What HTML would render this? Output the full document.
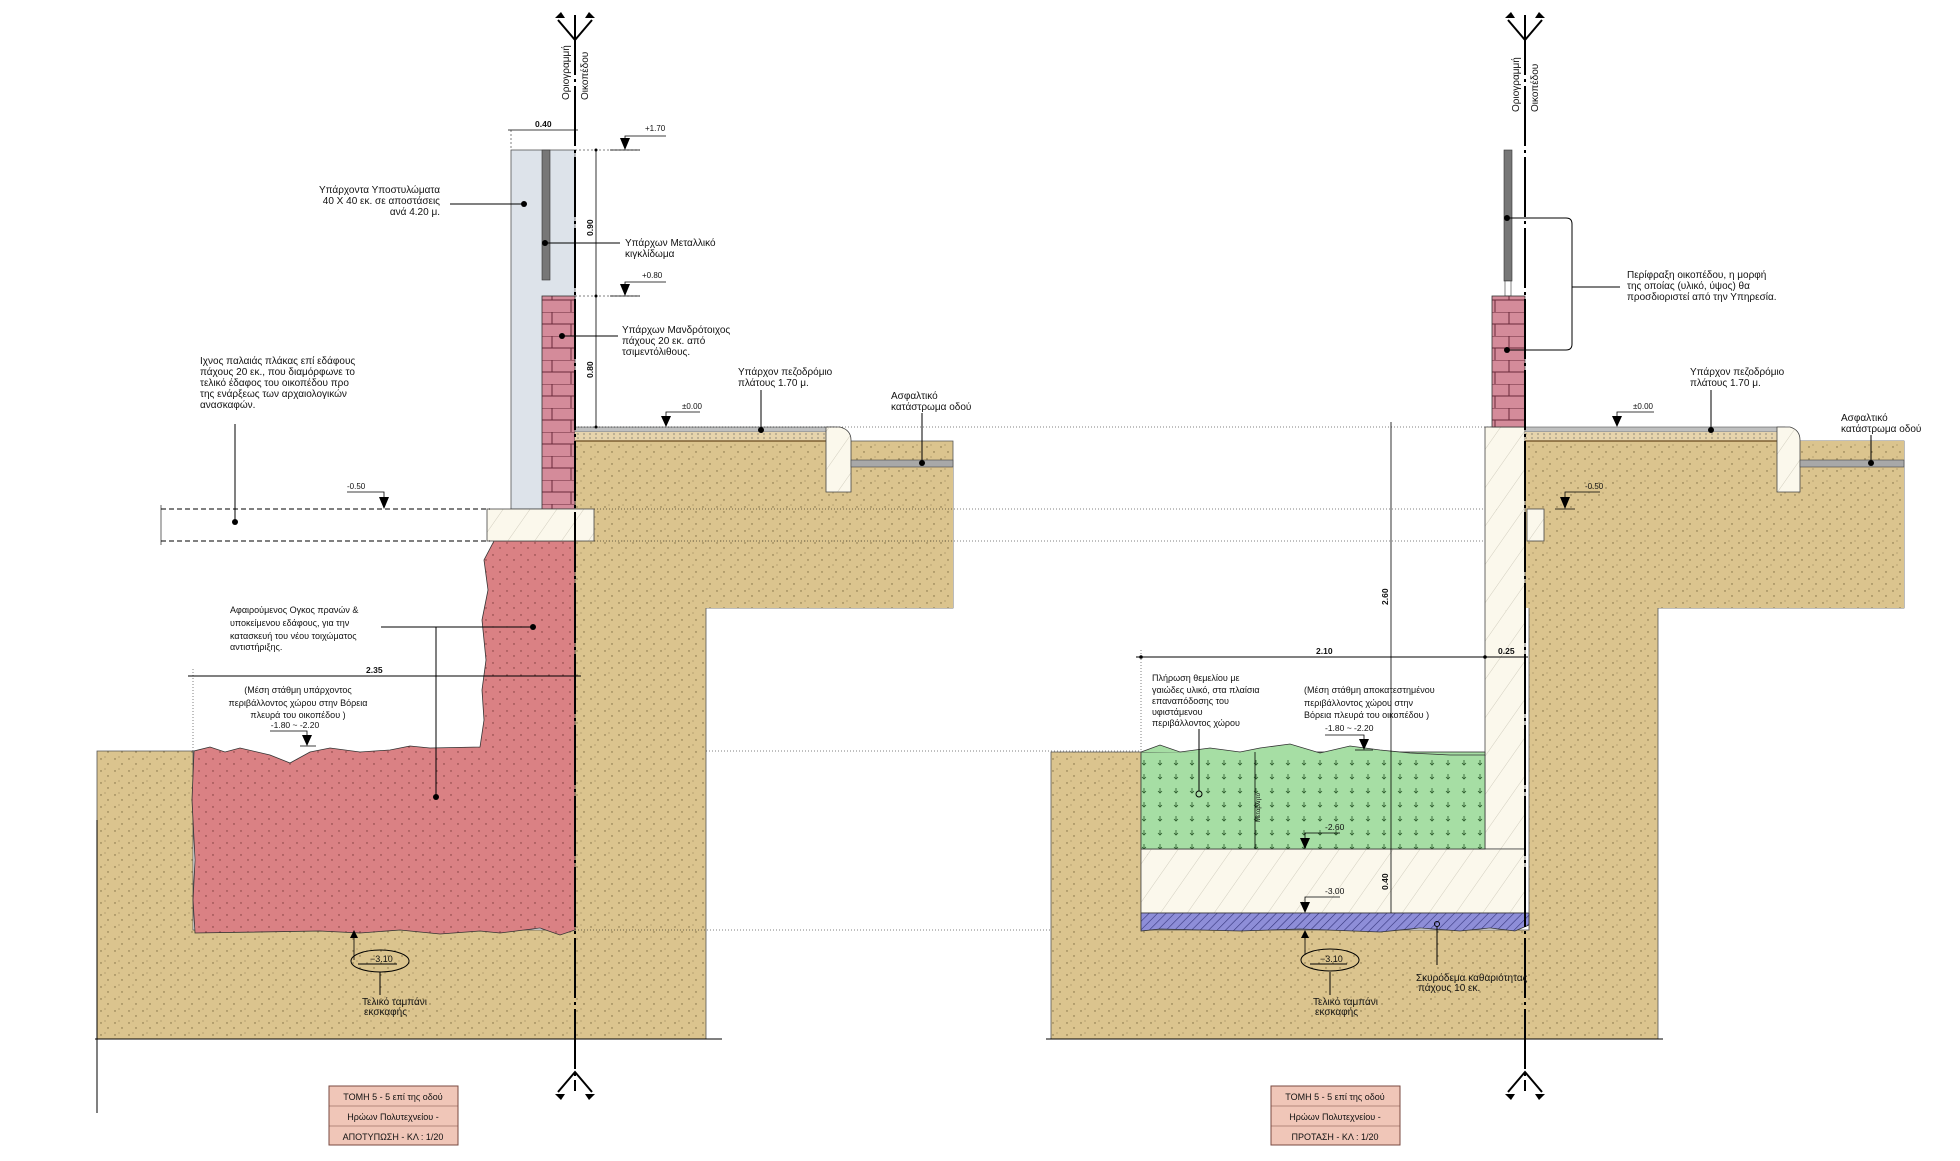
<!DOCTYPE html>
<html><head><meta charset="utf-8"><style>
html,body{margin:0;padding:0;background:#fff;}
svg{display:block}
text{font-family:"Liberation Sans","DejaVu Sans",sans-serif;fill:#111}
.s{font-size:10px}
.d{font-size:8.5px;font-weight:bold}
.ln{fill:none;stroke:#000;stroke-width:0.8}
</style></head><body>
<svg width="1960" height="1161" viewBox="0 0 1960 1161" xmlns="http://www.w3.org/2000/svg">
<defs>
<pattern id="soil" width="14" height="12" patternUnits="userSpaceOnUse">
<rect width="14" height="12" fill="#dbc48e"/>
<circle cx="3" cy="3" r="0.7" fill="#7a6a40"/><circle cx="10" cy="8" r="0.7" fill="#7a6a40"/><circle cx="7" cy="1" r="0.5" fill="#7a6a40"/>
</pattern>
<pattern id="red" width="14" height="12" patternUnits="userSpaceOnUse">
<rect width="14" height="12" fill="#da8184"/>
<circle cx="3" cy="3" r="0.7" fill="#7a3a3a"/><circle cx="10" cy="8" r="0.7" fill="#7a3a3a"/>
</pattern>
<pattern id="green" width="16" height="14" patternUnits="userSpaceOnUse">
<rect width="16" height="14" fill="#a6dea4"/>
<path d="M8 4 l0 5 M6 7 l2 2 l2 -2" stroke="#2a5a2a" stroke-width="0.8" fill="none"/>
</pattern>
<pattern id="conc" width="22" height="22" patternUnits="userSpaceOnUse" patternTransform="rotate(35)">
<rect width="22" height="22" fill="#fbf8ec"/>
<line x1="0" y1="0" x2="0" y2="22" stroke="#c8c4b4" stroke-width="0.8"/>
</pattern>
<pattern id="blue" width="6" height="6" patternUnits="userSpaceOnUse" patternTransform="rotate(45)">
<rect width="6" height="6" fill="#8e8ed8"/>
<line x1="0" y1="0" x2="0" y2="6" stroke="#33337a" stroke-width="1.2"/>
</pattern>
<pattern id="brick" width="33" height="24" patternUnits="userSpaceOnUse">
<rect width="33" height="24" fill="#d48b9a"/>
<path d="M0 0H33 M0 12H33 M24 0V12 M10 12V24" stroke="#6a2a3a" stroke-width="1"/>
</pattern>
<pattern id="sand" width="6" height="4" patternUnits="userSpaceOnUse">
<rect width="6" height="4" fill="#e6d4ac"/><circle cx="2" cy="2" r="0.6" fill="#555"/>
</pattern>
</defs>

<!-- ============ LEFT DRAWING ============ -->
<g>
<path d="M575 441 H953 V608 H706 V1039 H97 V751 L193 751 L193 930 L575 930 Z" fill="url(#soil)" stroke="#555" stroke-width="0.8"/>
<rect x="851" y="467" width="102" height="141" fill="url(#soil)"/>
<rect x="575" y="441" width="276" height="167" fill="url(#soil)"/>
<path d="M494 541 H575 V930 L560 935 L540 928 L500 933 L480 931 L440 934 L400 930 L360 933 L320 931 L195 933 L193 900 L195 860 L192 800 L194 751 L210 747 L225 752 L240 748 L270 755 L290 763 L310 752 L330 748 L360 752 L390 750 L410 746 L430 748 L480 747 L484 720 L482 690 L486 660 L482 620 L488 590 L484 560 Z" fill="url(#red)" stroke="#333" stroke-width="0.8"/>
<rect x="511" y="150" width="64" height="359" fill="#dde3ea" stroke="#555" stroke-width="0.8"/>
<rect x="542" y="150" width="8" height="130" fill="#777" stroke="#333" stroke-width="0.6"/>
<rect x="542" y="296" width="33" height="213" fill="url(#brick)" stroke="#333" stroke-width="0.8"/>
<rect x="487" y="509" width="107" height="32" fill="url(#conc)" stroke="#444" stroke-width="0.8"/>
<rect x="575" y="427" width="260" height="5" fill="#bfc0c0" stroke="#555" stroke-width="0.6"/>
<rect x="575" y="432" width="260" height="9" fill="url(#sand)"/>
<line x1="575" y1="441" x2="835" y2="441" stroke="#6a4a20" stroke-width="1.2"/>
<path d="M826 427 H840 Q851 430 851 440 V492 H826 Z" fill="url(#conc)" stroke="#444" stroke-width="0.8"/>
<rect x="851" y="460" width="102" height="7" fill="#a8a8a8" stroke="#444" stroke-width="0.6"/>
<line x1="575" y1="15" x2="575" y2="1091" stroke="#000" stroke-width="2" stroke-dasharray="60,4,3,4"/>
<path d="M558 20 L575 40 L592 20 M575 40 V60" stroke="#000" stroke-width="2" fill="none"/>
<path d="M555 18 l6 -6 l4 6z M595 18 l-6 -6 l-4 6z" fill="#000"/>
<path d="M558 1092 L575 1072 L592 1092" stroke="#000" stroke-width="2" fill="none"/>
<path d="M555 1094 l6 6 l4 -6z M595 1094 l-6 6 l-4 -6z" fill="#000"/>
<text class="s" transform="translate(569,100) rotate(-90)">Οριογραμμή</text>
<text class="s" transform="translate(588,100) rotate(-90)">Οικοπέδου</text>
<line x1="508" y1="130" x2="578" y2="130" stroke="#000" stroke-width="0.8"/>
<text class="d" x="535" y="127">0.40</text>
<line x1="511" y1="130" x2="511" y2="148" stroke="#000" stroke-width="0.5" stroke-dasharray="2,2"/>
<line x1="596" y1="150" x2="596" y2="427" stroke="#000" stroke-width="0.8"/>
<circle cx="596" cy="150" r="1.5"/><circle cx="596" cy="296" r="1.5"/><circle cx="596" cy="427" r="1.5"/>
<line x1="575" y1="150" x2="640" y2="150" stroke="#000" stroke-width="0.5" stroke-dasharray="2,2"/>
<line x1="575" y1="296" x2="640" y2="296" stroke="#000" stroke-width="0.5" stroke-dasharray="2,2"/>
<text class="d" transform="translate(593,236) rotate(-90)">0.90</text>
<text class="d" transform="translate(593,378) rotate(-90)">0.80</text>
<path d="M625 150 L620 138 H630Z" fill="#000"/><path class="ln" d="M625 138 V136 H666 M610 150 H640"/>
<text x="645" y="131" style="font-size:8px">+1.70</text>
<path d="M625 296 L620 284 H630Z" fill="#000"/><path class="ln" d="M625 284 V282 H666 M610 296 H640"/>
<text x="642" y="278" style="font-size:8px">+0.80</text>
<text class="s" text-anchor="end" x="440" y="193">Υπάρχοντα Υποστυλώματα</text>
<text class="s" text-anchor="end" x="440" y="204">40 Χ 40 εκ. σε αποστάσεις</text>
<text class="s" text-anchor="end" x="440" y="215">ανά 4.20 μ.</text>
<line x1="450" y1="204" x2="524" y2="204" stroke="#000"/><circle cx="524" cy="204" r="3"/>
<circle cx="545" cy="243" r="3"/><line x1="545" y1="243" x2="620" y2="243" stroke="#000"/>
<text class="s" x="625" y="246">Υπάρχων Μεταλλικό</text>
<text class="s" x="625" y="257">κιγκλίδωμα</text>
<circle cx="562" cy="336" r="3"/><line x1="562" y1="336" x2="618" y2="336" stroke="#000"/>
<text class="s" x="622" y="333">Υπάρχων Μανδρότοιχος</text>
<text class="s" x="622" y="344">πάχους 20 εκ. από</text>
<text class="s" x="622" y="355">τσιμεντόλιθους.</text>
<text class="s" x="200" y="364">Ιχνος παλαιάς πλάκας επί εδάφους</text>
<text class="s" x="200" y="375">πάχους 20 εκ., που διαμόρφωνε το</text>
<text class="s" x="200" y="386">τελικό έδαφος του οικοπέδου προ</text>
<text class="s" x="200" y="397">της ενάρξεως των αρχαιολογικών</text>
<text class="s" x="200" y="408">ανασκαφών.</text>
<line x1="235" y1="424" x2="235" y2="522" stroke="#000"/><circle cx="235" cy="522" r="3"/>
<text class="s" x="738" y="375">Υπάρχον πεζοδρόμιο</text>
<text class="s" x="738" y="386">πλάτους 1.70 μ.</text>
<line x1="761" y1="390" x2="761" y2="430" stroke="#000"/><circle cx="761" cy="430" r="3"/>
<text class="s" x="891" y="399">Ασφαλτικό</text>
<text class="s" x="891" y="410">κατάστρωμα οδού</text>
<line x1="922" y1="413" x2="922" y2="463" stroke="#000"/><circle cx="922" cy="463" r="3"/>
<path d="M666 427 L661 416 H671Z" fill="#000"/><path class="ln" d="M666 416 V412 H700"/>
<text x="682" y="409" style="font-size:8px">±0.00</text>
<line x1="575" y1="427" x2="1525" y2="427" stroke="#000" stroke-width="0.5" stroke-dasharray="1,2"/>
<line x1="161" y1="509" x2="490" y2="509" stroke="#000" stroke-dasharray="5,3"/>
<line x1="161" y1="541" x2="490" y2="541" stroke="#000" stroke-dasharray="5,3"/>
<line x1="161" y1="505" x2="161" y2="545" stroke="#000" stroke-width="0.6"/>
<line x1="594" y1="509" x2="1530" y2="509" stroke="#000" stroke-width="0.5" stroke-dasharray="1,2"/>
<line x1="594" y1="541" x2="1530" y2="541" stroke="#000" stroke-width="0.5" stroke-dasharray="1,2"/>
<path d="M384 509 L379 497 H389Z" fill="#000"/><path class="ln" d="M384 497 V492 H347"/>
<text x="347" y="489" style="font-size:8px">-0.50</text>
<text class="s" x="230" y="613" style="font-size:9px">Αφαιρούμενος Ογκος πρανών &amp;</text>
<text class="s" x="230" y="626" style="font-size:9px">υποκείμενου εδάφους, για την</text>
<text class="s" x="230" y="639" style="font-size:9px">κατασκευή του νέου τοιχώματος</text>
<text class="s" x="230" y="650" style="font-size:9px">αντιστήριξης.</text>
<line x1="381" y1="627" x2="533" y2="627" stroke="#000"/><circle cx="533" cy="627" r="3"/>
<line x1="436" y1="627" x2="436" y2="797" stroke="#000"/><circle cx="436" cy="797" r="3"/>
<line x1="188" y1="676" x2="581" y2="676" stroke="#000"/>
<line x1="193" y1="669" x2="193" y2="751" stroke="#000" stroke-width="0.5" stroke-dasharray="1,2"/>
<text class="d" x="366" y="673">2.35</text>
<text class="s" text-anchor="middle" x="298" y="693" style="font-size:9px">(Μέση στάθμη υπάρχοντος</text>
<text class="s" text-anchor="middle" x="298" y="706" style="font-size:9px">περιβάλλοντος χώρου στην Βόρεια</text>
<text class="s" text-anchor="middle" x="298" y="718" style="font-size:9px">πλευρά του οικοπέδου )</text>
<text text-anchor="middle" x="295" y="728" style="font-size:8.5px">-1.80 ~ -2.20</text>
<path d="M307 746 L302 735 H312Z" fill="#000"/><path class="ln" d="M270 731 H307 V735 M300 746 H316"/>
<line x1="706" y1="751" x2="1141" y2="751" stroke="#000" stroke-width="0.5" stroke-dasharray="1,2"/>
<line x1="575" y1="930" x2="1141" y2="930" stroke="#000" stroke-width="0.5" stroke-dasharray="1,2"/>
<ellipse cx="380" cy="961" rx="29" ry="11" fill="none" stroke="#000"/>
<path d="M350 938 L354 930 L358 938Z" fill="#000"/><path class="ln" d="M354 960 V934"/>
<line x1="358" y1="964" x2="397" y2="964" stroke="#000"/>
<text x="370" y="962" style="font-size:9px">−3.10</text>
<line x1="380" y1="972" x2="380" y2="995" stroke="#000"/>
<text class="s" x="362" y="1005">Τελικό ταμπάνι</text>
<text class="s" x="364" y="1015">εκσκαφής</text>
<line x1="97" y1="820" x2="97" y2="1113" stroke="#000"/>
<line x1="95" y1="1039" x2="722" y2="1039" stroke="#000"/>
<rect x="329" y="1086" width="129" height="59" fill="#f0c6b8" stroke="#7a4a40"/>
<line x1="329" y1="1106" x2="458" y2="1106" stroke="#7a4a40" stroke-width="0.5"/>
<line x1="329" y1="1126" x2="458" y2="1126" stroke="#7a4a40" stroke-width="0.5"/>
<text text-anchor="middle" x="393" y="1100" style="font-size:9px">ΤΟΜΗ 5 - 5  επί της οδού</text>
<text text-anchor="middle" x="393" y="1120" style="font-size:9px">Ηρώων Πολυτεχνείου -</text>
<text text-anchor="middle" x="393" y="1140" style="font-size:9px">ΑΠΟΤΥΠΩΣΗ - ΚΛ : 1/20</text>
</g>

<!-- ============ RIGHT DRAWING ============ -->
<g>
<path d="M1051 752 H1141 V930 H1529 V541 H1525 V441 H1904 V608 H1658 V1039 H1051 Z" fill="url(#soil)" stroke="#555" stroke-width="0.8"/>
<rect x="1525" y="441" width="379" height="167" fill="url(#soil)"/>
<rect x="1485" y="427" width="40" height="422" fill="url(#conc)" stroke="#444" stroke-width="0.8"/>
<rect x="1141" y="849" width="384" height="64" fill="url(#conc)" stroke="#444" stroke-width="0.8"/>
<rect x="1141" y="752" width="344" height="97" fill="url(#green)" stroke="#333" stroke-width="0.8"/>
<path d="M1141 752 L1160 745 L1180 752 L1210 748 L1240 752 L1260 748 L1290 744 L1320 753 L1350 746 L1380 750 L1410 753 L1450 755 L1485 755" fill="#a6dea4" stroke="#333" stroke-width="0.8"/>
<path d="M1141 913 H1529 V925 L1515 931 L1490 928 L1460 931 L1420 928 L1380 932 L1300 929 L1240 931 L1160 929 L1141 931 Z" fill="url(#blue)" stroke="#333" stroke-width="0.8"/>
<rect x="1527" y="509" width="17" height="32" fill="url(#conc)" stroke="#444" stroke-width="0.8"/>
<rect x="1504" y="150" width="8" height="131" fill="#777" stroke="#333" stroke-width="0.6"/>
<rect x="1505" y="281" width="6" height="15" fill="#fff" stroke="#333" stroke-width="0.6"/>
<rect x="1492" y="296" width="33" height="131" fill="url(#brick)" stroke="#333" stroke-width="0.8"/>
<rect x="1525" y="427" width="260" height="5" fill="#bfc0c0" stroke="#555" stroke-width="0.6"/>
<rect x="1525" y="432" width="252" height="9" fill="url(#sand)"/>
<line x1="1525" y1="441" x2="1777" y2="441" stroke="#6a4a20" stroke-width="1.2"/>
<path d="M1777 427 H1790 Q1800 430 1800 440 V492 H1777 Z" fill="url(#conc)" stroke="#444" stroke-width="0.8"/>
<rect x="1800" y="460" width="104" height="7" fill="#a8a8a8" stroke="#444" stroke-width="0.6"/>
<line x1="1525" y1="15" x2="1525" y2="1091" stroke="#000" stroke-width="2" stroke-dasharray="60,4,3,4"/>
<path d="M1508 20 L1525 40 L1542 20 M1525 40 V60" stroke="#000" stroke-width="2" fill="none"/>
<path d="M1505 18 l6 -6 l4 6z M1545 18 l-6 -6 l-4 6z" fill="#000"/>
<path d="M1508 1092 L1525 1072 L1542 1092" stroke="#000" stroke-width="2" fill="none"/>
<path d="M1505 1094 l6 6 l4 -6z M1545 1094 l-6 6 l-4 -6z" fill="#000"/>
<text class="s" transform="translate(1519,112) rotate(-90)">Οριογραμμή</text>
<text class="s" transform="translate(1538,112) rotate(-90)">Οικοπέδου</text>
<circle cx="1507" cy="218" r="3"/><circle cx="1507" cy="350" r="3"/>
<path d="M1507 218 H1566 Q1572 218 1572 224 V344 Q1572 350 1566 350 H1507 M1572 287 H1620" stroke="#000" fill="none"/>
<text class="s" x="1627" y="278">Περίφραξη οικοπέδου, η μορφή</text>
<text class="s" x="1627" y="289">της οποίας (υλικό, ύψος) θα</text>
<text class="s" x="1627" y="300">προσδιοριστεί από την Υπηρεσία.</text>
<text class="s" x="1690" y="375">Υπάρχον πεζοδρόμιο</text>
<text class="s" x="1690" y="386">πλάτους 1.70 μ.</text>
<line x1="1711" y1="390" x2="1711" y2="430" stroke="#000"/><circle cx="1711" cy="430" r="3"/>
<text class="s" x="1841" y="421">Ασφαλτικό</text>
<text class="s" x="1841" y="432">κατάστρωμα οδού</text>
<line x1="1871" y1="435" x2="1871" y2="463" stroke="#000"/><circle cx="1871" cy="463" r="3"/>
<path d="M1617 427 L1612 416 H1622Z" fill="#000"/><path class="ln" d="M1617 416 V412 H1654"/>
<text x="1633" y="409" style="font-size:8px">±0.00</text>
<path d="M1565 509 L1560 497 H1570Z" fill="#000"/><path class="ln" d="M1565 497 V492 H1600 M1555 509 H1575"/>
<text x="1585" y="489" style="font-size:8px">-0.50</text>
<line x1="1391" y1="422" x2="1391" y2="913" stroke="#000" stroke-width="0.8"/>
<text class="d" transform="translate(1388,605) rotate(-90)">2.60</text>
<text class="d" transform="translate(1388,890) rotate(-90)">0.40</text>
<line x1="1136" y1="657" x2="1528" y2="657" stroke="#000"/>
<line x1="1141" y1="650" x2="1141" y2="752" stroke="#000" stroke-width="0.5" stroke-dasharray="1,2"/>
<circle cx="1485" cy="657" r="1.8"/><circle cx="1141" cy="657" r="1.8"/>
<text class="d" x="1316" y="654">2.10</text>
<text class="d" x="1498" y="654">0.25</text>
<text class="s" x="1152" y="681" style="font-size:9px">Πλήρωση θεμελίου με</text>
<text class="s" x="1152" y="693" style="font-size:9px">γαιώδες υλικό, στα πλαίσια</text>
<text class="s" x="1152" y="704" style="font-size:9px">επαναπόδοσης του</text>
<text class="s" x="1152" y="715" style="font-size:9px">υφιστάμενου</text>
<text class="s" x="1152" y="726" style="font-size:9px">περιβάλλοντος χώρου</text>
<line x1="1199" y1="729" x2="1199" y2="791" stroke="#000"/><circle cx="1199" cy="794" r="3" fill="none" stroke="#000"/>
<text class="s" x="1304" y="693" style="font-size:9px">(Μέση στάθμη αποκατεστημένου</text>
<text class="s" x="1304" y="706" style="font-size:9px">περιβάλλοντος χώρου στην</text>
<text class="s" x="1304" y="718" style="font-size:9px">Βόρεια πλευρά του οικοπέδου )</text>
<text x="1325" y="731" style="font-size:8.5px">-1.80 ~ -2.20</text>
<path d="M1364 750 L1359 739 H1369Z" fill="#000"/><path class="ln" d="M1325 735 H1364 V739 M1355 750 H1373"/>
<line x1="1255" y1="752" x2="1255" y2="849" stroke="#000" stroke-width="0.8"/>
<text transform="translate(1260,822) rotate(-90)" style="font-size:6px">Μεταβλητό</text>
<path d="M1305 849 L1300 838 H1310Z" fill="#000"/><path class="ln" d="M1305 838 V833 H1340"/>
<text x="1325" y="830" style="font-size:8.5px">-2.60</text>
<path d="M1305 913 L1300 902 H1310Z" fill="#000"/><path class="ln" d="M1305 902 V897 H1340"/>
<text x="1325" y="894" style="font-size:8.5px">-3.00</text>
<ellipse cx="1330" cy="960" rx="29" ry="11" fill="none" stroke="#000"/>
<path d="M1301 938 L1305 930 L1309 938Z" fill="#000"/><path class="ln" d="M1305 955 V934"/>
<line x1="1310" y1="964" x2="1347" y2="964" stroke="#000"/>
<text x="1320" y="962" style="font-size:9px">−3.10</text>
<line x1="1330" y1="972" x2="1330" y2="995" stroke="#000"/>
<text class="s" x="1313" y="1005">Τελικό ταμπάνι</text>
<text class="s" x="1315" y="1015">εκσκαφής</text>
<circle cx="1437" cy="924" r="2.5" fill="none" stroke="#000"/>
<line x1="1437" y1="927" x2="1437" y2="965" stroke="#000"/>
<text class="s" x="1416" y="981">Σκυρόδεμα καθαριότητας</text>
<text class="s" x="1418" y="991">πάχους 10 εκ.</text>
<line x1="1046" y1="1039" x2="1663" y2="1039" stroke="#000"/>
<rect x="1271" y="1086" width="129" height="59" fill="#f0c6b8" stroke="#7a4a40"/>
<line x1="1271" y1="1106" x2="1400" y2="1106" stroke="#7a4a40" stroke-width="0.5"/>
<line x1="1271" y1="1126" x2="1400" y2="1126" stroke="#7a4a40" stroke-width="0.5"/>
<text text-anchor="middle" x="1335" y="1100" style="font-size:9px">ΤΟΜΗ 5 - 5  επί της οδού</text>
<text text-anchor="middle" x="1335" y="1120" style="font-size:9px">Ηρώων Πολυτεχνείου -</text>
<text text-anchor="middle" x="1335" y="1140" style="font-size:9px">ΠΡΟΤΑΣΗ - ΚΛ : 1/20</text>
</g>
</svg>
</body></html>
